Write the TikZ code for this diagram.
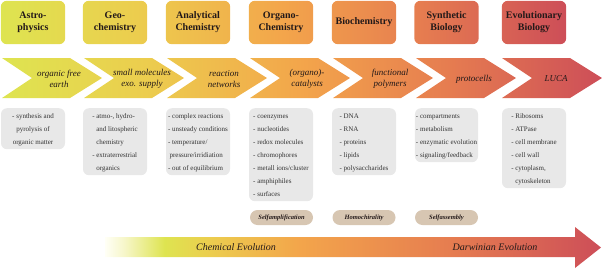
\documentclass[tikz,border=0pt]{standalone}
\usepackage{fontspec}
\setmainfont{Liberation Serif}
\usetikzlibrary{backgrounds}
\definecolor{cwhite}{RGB}{255,255,246}
\definecolor{cpale}{RGB}{246,246,200}
\definecolor{clime}{RGB}{222,228,80}
\definecolor{cyel}{RGB}{236,205,78}
\definecolor{corg}{RGB}{243,165,75}
\definecolor{cror}{RGB}{230,125,80}
\definecolor{cred}{RGB}{205,78,88}
\definecolor{boxgray}{RGB}{232,232,232}
\definecolor{pilltan}{RGB}{215,198,178}
\definecolor{inkdark}{RGB}{35,25,25}
\pgfdeclarehorizontalshading{evoshade}{100bp}{color(0bp)=(clime); color(25bp)=(clime); color(37bp)=(cyel); color(50bp)=(corg); color(62bp)=(cror); color(75bp)=(cred); color(100bp)=(cred)}
\pgfdeclarehorizontalshading{arrowshade}{100bp}{color(0bp)=(cwhite); color(25bp)=(cwhite); color(27bp)=(cpale); color(31bp)=(clime); color(35.6bp)=(cyel); color(44.6bp)=(corg); color(59.7bp)=(cror); color(75bp)=(cred); color(100bp)=(cred)}
\tikzset{
  titlebox/.style={font=\fontsize{10}{12}\selectfont\bfseries, text=inkdark, align=center, minimum width=64pt, minimum height=43pt, inner sep=0pt},
  chevtext/.style={font=\fontsize{9}{10.5}\selectfont\itshape, text=inkdark, align=center, inner sep=0pt},
  listbox/.style={fill=boxgray, rounded corners=6pt, font=\fontsize{7}{13}\selectfont, text=black!80, align=left, minimum width=64pt, inner xsep=1pt, inner ysep=1pt, anchor=north},
  pill/.style={fill=pilltan, rounded corners=7.5pt, minimum width=63pt, minimum height=15pt, font=\fontsize{6.5}{8}\selectfont\bfseries\itshape, text=inkdark, inner sep=0pt},
  evotext/.style={font=\fontsize{10}{12}\selectfont\itshape, text=inkdark, inner sep=0pt}
}
\newcommand{\ind}{\phantom{- }}
\begin{document}
\begin{tikzpicture}[x=1pt,y=-1pt]
\useasboundingbox (0,0) rectangle (602,269);
% title boxes
\node[titlebox] (t1) at (33,22.5) {Astro-\\physics};
\node[titlebox] (t2) at (115,22.5) {Geo-\\chemistry};
\node[titlebox] (t3) at (198,22.5) {Analytical\\Chemistry};
\node[titlebox] (t4) at (281,22.5) {Organo-\\Chemistry};
\node[titlebox] (t5) at (364,22.5) {Biochemistry};
\node[titlebox] (t6) at (446.5,22.5) {Synthetic\\Biology};
\node[titlebox] (t7) at (534,22.5) {Evolutionary\\Biology};
\begin{scope}[on background layer]
\shade[shading=evoshade, rounded corners=6pt]
  (t1.north west) rectangle (t1.south east)
  (t2.north west) rectangle (t2.south east)
  (t3.north west) rectangle (t3.south east)
  (t4.north west) rectangle (t4.south east)
  (t5.north west) rectangle (t5.south east)
  (t6.north west) rectangle (t6.south east)
  (t7.north west) rectangle (t7.south east);
% chevrons
\shade[shading=evoshade]
  \foreach \L in {2,84,167,250,333,416,502} {
    (\L,58) -- (\L+68,58) -- (\L+100,78) -- (\L+68,98) -- (\L,98) -- (\L+30,78) -- cycle
  };
% bottom arrow
\shade[shading=arrowshade] (105,237) -- (575,237) -- (575,227) -- (601,247.5) -- (575,268) -- (575,257) -- (105,257) -- cycle;
\end{scope}
% chevron texts
\node[chevtext] (c1) at (59,79) {organic free\\earth};
\node[chevtext] (c2) at (142,79) {small molecules\\exo. supply};
\node[chevtext] (c3) at (224,79) {reaction\\networks};
\node[chevtext] (c4) at (307,79) {(organo)-\\catalysts};
\node[chevtext] (c5) at (390,79) {functional\\polymers};
\node[chevtext] (c6) at (474,79) {protocells};
\node[chevtext] (c7) at (556,79) {LUCA};
% list boxes
\node[listbox, align=center] (g1) at (33,108) {\strut- synthesis and\\\strut pyrolysis of\\\strut organic matter};
\node[listbox] (g2) at (115,108) {\strut- atmo-, hydro-\\\strut\ind and litospheric\\\strut\ind chemistry\\\strut- extraterrestrial\\\strut\ind organics};
\node[listbox] (g3) at (198,108) {\strut- complex reactions\\\strut- unsteady conditions\\\strut- temperature/\\\strut\hspace{1.5pt}pressure/irridiation\\\strut- out of equilibrium};
\node[listbox] (g4) at (281,108) {\strut- coenzymes\\\strut- nucleotides\\\strut- redox molecules\\\strut- chromophores\\\strut- metall ions/cluster\\\strut- amphiphiles\\\strut- surfaces};
\node[listbox] (g5) at (364,108) {\strut- DNA\\\strut- RNA\\\strut- proteins\\\strut- lipids\\\strut- polysaccharides};
\node[listbox, minimum width=63pt] (g6) at (446.5,108) {\strut- compartments\\\strut- metabolism\\\strut- enzymatic evolution\\\strut- signaling/feedback};
\node[listbox] (g7) at (534,108) {\strut- Ribosoms\\\strut- ATPase\\\strut- cell membrane\\\strut- cell wall\\\strut- cytoplasm,\\\strut\ind cytoskeleton};
% pills
\node[pill] (p1) at (281.5,217.5) {Selfamplification};
\node[pill] (p2) at (364,217.5) {Homochirality};
\node[pill] (p3) at (446.5,217.5) {Selfassembly};
% bottom arrow texts
\node[evotext] (e1) at (236,247.5) {Chemical Evolution};
\node[evotext] (e2) at (495,247.5) {Darwinian Evolution};
\end{tikzpicture}
\end{document}
